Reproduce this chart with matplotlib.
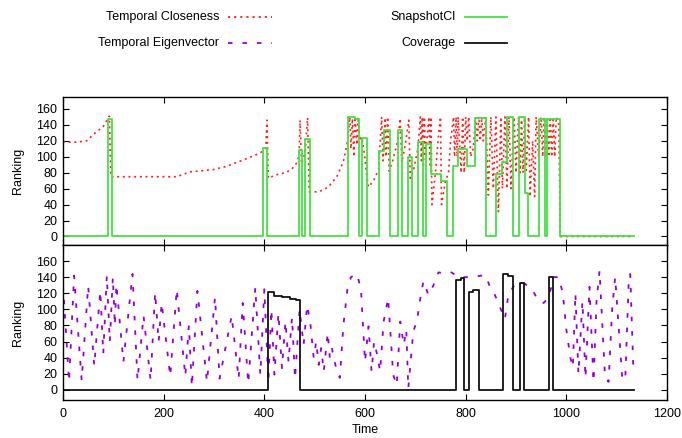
import matplotlib
matplotlib.use("Agg")
import matplotlib.pyplot as plt
from matplotlib.lines import Line2D

plt.rcParams['font.family'] = ['Liberation Sans', 'DejaVu Sans']
plt.rcParams['font.size'] = 9

# Temporal Closeness (top, red dotted)
close_t = [0, 20, 47, 60, 80, 92, 95, 120, 160, 226, 252, 299, 325, 358, 385, 398, 403, 405, 408,
           421, 441, 454, 465, 469, 471, 474, 481, 486, 489, 508, 527, 544, 557, 564, 566, 570, 572,
           575, 578, 580, 584, 586, 590, 594, 600, 603, 607, 617, 627, 633, 636, 640, 642, 645, 648,
           655, 665, 670, 673, 680, 687, 690, 697, 705, 710, 712, 714, 716, 718, 720, 727, 729, 731,
           733, 740, 745, 750, 752, 760, 766, 770, 776, 778, 781, 783, 785, 791, 794, 797, 800, 803,
           806, 810, 815, 820, 823, 826, 829, 832, 835, 840, 845, 850, 855, 860, 865, 870, 873, 878,
           882, 886, 890, 896, 900, 905, 908, 911, 914, 917, 920, 925, 928, 933, 937, 940, 945, 950,
           953, 956, 959, 962, 965, 968, 971, 974, 977, 980, 985, 988, 1135]
close_v = [119, 118, 120, 128, 138, 151, 75, 75, 75, 75, 81, 84, 88, 96, 103, 107, 112, 146, 73,
           77, 80, 84, 93, 102, 146, 91, 105, 149, 56, 56, 62, 75, 94, 115, 125, 150, 110,
           148, 100, 150, 115, 150, 120, 125, 98, 78, 62, 70, 84, 150, 95, 149, 100, 150, 82,
           95, 120, 148, 93, 115, 146, 73, 85, 110, 150, 95, 150, 90, 150, 100, 150, 90, 150,
           40, 80, 120, 150, 40, 70, 80, 120, 150, 100, 150, 100, 150, 80, 150, 80, 150, 120,
           150, 100, 110, 150, 120, 150, 120, 150, 120, 150, 52, 150, 60, 150, 31, 150, 60, 150,
           60, 150, 60, 150, 80, 150, 80, 150, 80, 150, 80, 150, 50, 120, 50, 150, 100, 150,
           100, 150, 100, 150, 100, 150, 100, 150, 100, 150, 140, 0, 0]

# SnapshotCl (top, green step)
snap_t = [0, 89, 97, 398, 406, 468, 475, 481, 490, 566, 580, 588, 594, 603, 628, 637, 650, 665,
          673, 686, 694, 706, 716, 722, 732, 750, 762, 775, 785, 803, 819, 841, 861, 872, 882,
          895, 905, 917, 924, 946, 957, 962, 987, 1135]
snap_v = [0, 148, 0, 111, 0, 109, 0, 122, 0, 150, 147, 0, 123, 0, 107, 134, 0, 134,
          0, 100, 0, 119, 0, 116, 78, 70, 0, 88, 110, 88, 149, 0, 79, 94, 150,
          0, 150, 55, 0, 148, 0, 148, 0, 0]

# Temporal Eigenvector (bottom, purple dashed)
eig_t = [0, 12, 22, 37, 50, 62, 74, 80, 87, 93, 99, 103, 106, 120, 138, 148, 160, 174, 183, 190,
         196, 213, 226, 243, 250, 256, 267, 286, 302, 311, 335, 349, 357, 368, 382, 392, 400, 408,
         414, 420, 428, 435, 442, 448, 455, 461, 470, 478, 485, 491, 498, 503, 508, 513, 518, 526,
         530, 534, 544, 550, 557, 565, 572, 584, 592, 600, 607, 613, 618, 624, 630, 637, 646, 656,
         663, 670, 677, 682, 686, 696, 703, 710, 716, 726, 736, 746, 762, 772, 785, 800, 815, 830,
         840, 850, 858, 870, 878, 885, 898, 915, 932, 945, 955, 965, 975, 985, 993, 1000, 1008,
         1013, 1018, 1024, 1032, 1038, 1046, 1054, 1060, 1066, 1077, 1084, 1091, 1097, 1111, 1117,
         1124, 1127, 1133]
eig_v = [130, 10, 142, 12, 129, 30, 123, 45, 142, 60, 140, 80, 131, 35, 144, 12, 92, 12, 121, 60,
         108, 17, 125, 17, 80, 4, 123, 10, 115, 14, 92, 14, 108, 8, 127, 19, 125, 10,
         100, 19, 95, 27, 85, 35, 90, 14, 100, 56, 105, 85, 40, 60, 31, 52, 23, 71,
         40, 52, 23, 15, 80, 125, 140, 144, 125, 35, 79, 23, 60, 44, 23, 85, 114, 19,
         6, 85, 56, 75, 2, 73, 85, 114, 135, 118, 130, 146, 144, 146, 140, 140, 140, 142,
         142, 125, 118, 100, 88, 119, 131, 133, 125, 110, 108, 115, 140, 140, 120, 75, 40,
         28, 120, 20, 110, 15, 128, 10, 110, 148, 15, 10, 100, 140, 15, 12,
         135, 144, 28]

# Coverage (bottom, black step)
cov_t = [0, 407, 420, 435, 450, 462, 471, 781, 790, 797, 807, 815, 827, 874, 885, 895, 908, 916,
         965, 973, 1135]
cov_v = [0, 121, 117, 115, 113, 112, 0, 136, 139, 0, 121, 124, 0, 144, 142, 0, 133, 0,
         140, 0, 0]

red = '#ff2020'
green = '#44e044'
purple = '#9400d3'
black = '#111111'
red_ls = (0, (1.2, 2.2))
purple_ls = (0, (2.5, 5.5))

fig = plt.figure(figsize=(6.82, 4.38), dpi=100)
ax1 = fig.add_axes([0.0924, 0.4406, 0.8856, 0.3379])
ax2 = fig.add_axes([0.0924, 0.0868, 0.8856, 0.3539])

ax1.plot(close_t, close_v, color=red, lw=1.2, ls=red_ls)
ax1.plot(snap_t, snap_v, color=green, lw=1.3, drawstyle='steps-post')
ax2.plot(eig_t, eig_v, color=purple, lw=1.3, ls=purple_ls)
ax2.plot(cov_t, cov_v, color=black, lw=1.3, drawstyle='steps-post')

ax1.set_ylim(-10.7, 175)
ax2.set_ylim(-12.5, 180)
for ax in (ax1, ax2):
    ax.set_xlim(0, 1200)
    ax.set_xticks(range(0, 1201, 200))
    ax.set_yticks(range(0, 161, 20))
    ax.tick_params(direction='in', length=4, width=0.8, top=True, right=True, pad=4)
    for s in ax.spines.values():
        s.set_linewidth(1.0)
ax1.tick_params(labelbottom=False)
ax2.tick_params(axis='x', pad=6)

fig.text(18 / 682, 1 - 171 / 438, 'Ranking', rotation=90, ha='center', va='center')
fig.text(18 / 682, 1 - 323 / 438, 'Ranking', rotation=90, ha='center', va='center')
fig.text(0.5359, 1 - 436 / 438, 'Time', ha='center', va='bottom')

# legend, gnuplot style: label then sample
rows = [(219, 17, 'Temporal Closeness', red, red_ls, 228, 272),
        (219, 43, 'Temporal Eigenvector', purple, purple_ls, 228, 272),
        (456, 17, 'SnapshotCl', green, '-', 465, 507),
        (456, 43, 'Coverage', black, '-', 465, 507)]
for xt, yt, label, c, ls, x0, x1 in rows:
    y = 1 - yt / 438
    fig.text(xt / 682, y, label, ha='right', va='center')
    fig.add_artist(Line2D([x0 / 682, x1 / 682], [y, y], color=c, lw=1.3, ls=ls,
                          transform=fig.transFigure))

plt.savefig('out.png', dpi=100)
